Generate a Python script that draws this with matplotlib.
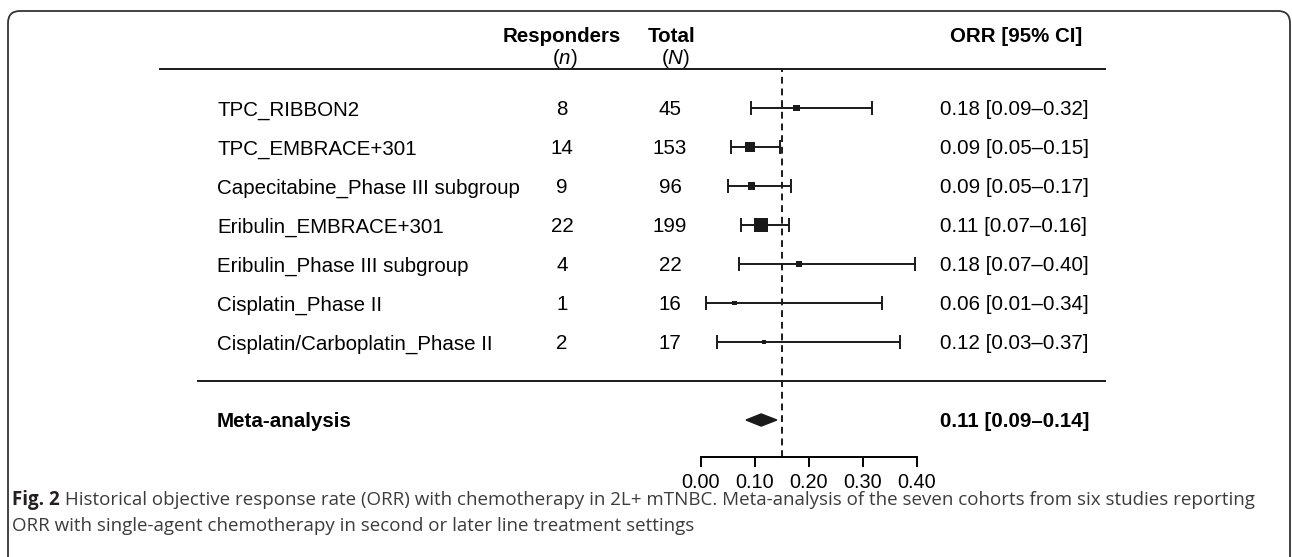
import matplotlib
matplotlib.use("Agg")
import matplotlib.pyplot as plt
from matplotlib.transforms import blended_transform_factory
from matplotlib.patches import FancyBboxPatch

plt.rcParams['font.family'] = ['Liberation Sans', 'DejaVu Sans']
plt.rcParams['mathtext.fontset'] = 'custom'
plt.rcParams['mathtext.rm'] = 'Liberation Sans'
plt.rcParams['mathtext.it'] = 'Liberation Sans:italic'

# data
studies = ["TPC_RIBBON2", "TPC_EMBRACE+301", "Capecitabine_Phase III subgroup",
           "Eribulin_EMBRACE+301", "Eribulin_Phase III subgroup",
           "Cisplatin_Phase II", "Cisplatin/Carboplatin_Phase II"]
responders = [8, 14, 9, 22, 4, 1, 2]
totals = [45, 153, 96, 199, 22, 16, 17]
orr = [0.178, 0.092, 0.094, 0.111, 0.182, 0.063, 0.118]
ci_low = [0.093, 0.056, 0.051, 0.075, 0.071, 0.010, 0.030]
ci_high = [0.317, 0.147, 0.168, 0.163, 0.397, 0.335, 0.369]
orr_labels = ["0.18 [0.09\u20130.32]", "0.09 [0.05\u20130.15]", "0.09 [0.05\u20130.17]",
              "0.11 [0.07\u20130.16]", "0.18 [0.07\u20130.40]", "0.06 [0.01\u20130.34]",
              "0.12 [0.03\u20130.37]"]
meta_est, meta_low, meta_high = 0.112, 0.084, 0.141
meta_label = "0.11 [0.09\u20130.14]"
ref_line = 0.15
xticks = [0.0, 0.1, 0.2, 0.3, 0.4]
box_px = [6.7, 10, 7.7, 14, 6.7, 4.5, 4]   # box side in pixels (study weight)

W, H = 1292, 557
fig = plt.figure(figsize=(W / 100, H / 100), dpi=100)

# axes: x 0..0.4 -> px 700.7..916.7, rows spaced 39 px, header line at row -1
top_px, bot_px = 69, 456.7
ax = fig.add_axes([700.7 / W, 1 - bot_px / H, 216 / W, (bot_px - top_px) / H])
ax.set_xlim(0, 0.4)
ax.set_ylim(-1 + (bot_px - top_px) / 39, -1)
for s in ['top', 'right', 'left']:
    ax.spines[s].set_visible(False)
ax.spines['bottom'].set_linewidth(1.4)
ax.set_yticks([])
ax.set_xticks(xticks)
ax.set_xticklabels(["%.2f" % t for t in xticks], fontsize=14.3)
ax.tick_params(axis='x', length=7.5, width=1.4, pad=4, direction='out')
ax.patch.set_visible(False)

k = '#1a1a1a'
rows = list(range(len(studies)))
ax.errorbar(orr, rows, xerr=[[o - l for o, l in zip(orr, ci_low)],
                             [h - o for o, h in zip(orr, ci_high)]],
            fmt='none', ecolor=k, elinewidth=1.4, capsize=4.8, capthick=1.4, zorder=3)
ax.scatter(orr, rows, marker='s', s=[(b * 0.72) ** 2 for b in box_px], color=k,
           linewidths=0, zorder=4)

# summary diamond
hd = 0.155
ax.fill([meta_low, meta_est, meta_high, meta_est], [8, 8 - hd, 8, 8 + hd], color=k, zorder=4)

ax.axvline(ref_line, ymin=0, ymax=1, color=k, linestyle=(0, (3.5, 2.5)), linewidth=1.4, zorder=2)

# table text (figure x, data y)
tr = blended_transform_factory(fig.transFigure, ax.transData)
fs = 14.8
off = 0.19
for i in rows:
    ax.text(217 / W, i + off, studies[i], transform=tr, fontsize=fs, va='baseline', ha='left')
    ax.text(562 / W, i + off, str(responders[i]), transform=tr, fontsize=fs, va='baseline', ha='center')
    ax.text(670 / W, i + off, str(totals[i]), transform=tr, fontsize=fs, va='baseline', ha='center')
    ax.text(940 / W, i + off, orr_labels[i], transform=tr, fontsize=fs, va='baseline', ha='left')

ax.text(217 / W, 8 + off, "Meta-analysis", transform=tr, fontsize=fs, fontweight='bold', va='baseline')
ax.text(940 / W, 8 + off, meta_label, transform=tr, fontsize=fs, fontweight='bold', va='baseline')

ax.text(562 / W, -1.70, "Responders", transform=tr, fontsize=fs, fontweight='bold', va='baseline', ha='center')
ax.text(565 / W, -1.14, "($n$)", transform=tr, fontsize=fs, va='baseline', ha='center')
ax.text(672 / W, -1.70, "Total", transform=tr, fontsize=fs, fontweight='bold', va='baseline', ha='center')
ax.text(676 / W, -1.14, "($N$)", transform=tr, fontsize=fs, va='baseline', ha='center')
ax.text(1016 / W, -1.70, "ORR [95% CI]", transform=tr, fontsize=fs, fontweight='bold', va='baseline', ha='center')

# table rules
ax.plot([160 / W, 1105 / W], [-1, -1], transform=tr, color=k, lw=1.4, clip_on=False)
ax.plot([198 / W, 1105 / W], [7, 7], transform=tr, color=k, lw=1.4, clip_on=False)

# caption
cap_fs = 14
t1 = fig.text(12 / W, 1 - 505 / H, "Fig. 2", fontsize=cap_fs, fontweight='bold', color='#231f20',
              family=['Open Sans', 'DejaVu Sans'], va='baseline')
t2 = fig.text(0, 0, " Historical objective response rate (ORR) with chemotherapy in 2L+ mTNBC. "
              "Meta-analysis of the seven cohorts from six studies reporting",
              fontsize=cap_fs, color='#3c3c3c', family=['Open Sans', 'DejaVu Sans'], va='baseline')
t3 = fig.text(12 / W, 1 - 531 / H, "ORR with single-agent chemotherapy in second or later line treatment settings",
              fontsize=cap_fs, color='#3c3c3c', family=['Open Sans', 'DejaVu Sans'], va='baseline')
r = fig.canvas.get_renderer()
w_total = t1.get_window_extent(r).width + t2.get_window_extent(r).width
scale = (1257 - 12) / w_total
for t in (t1, t2, t3):
    t.set_fontsize(cap_fs * scale)
t2.set_position(((12 + t1.get_window_extent(r).width) / W, 1 - 505 / H))

# rounded frame
frame = FancyBboxPatch((8, -60), 1282, 546 + 60, boxstyle="round,pad=0,rounding_size=12",
                       transform=None, fill=False, edgecolor='#333333', lw=1.3)
fig.add_artist(frame)

fig.savefig("out.png", dpi=100)
